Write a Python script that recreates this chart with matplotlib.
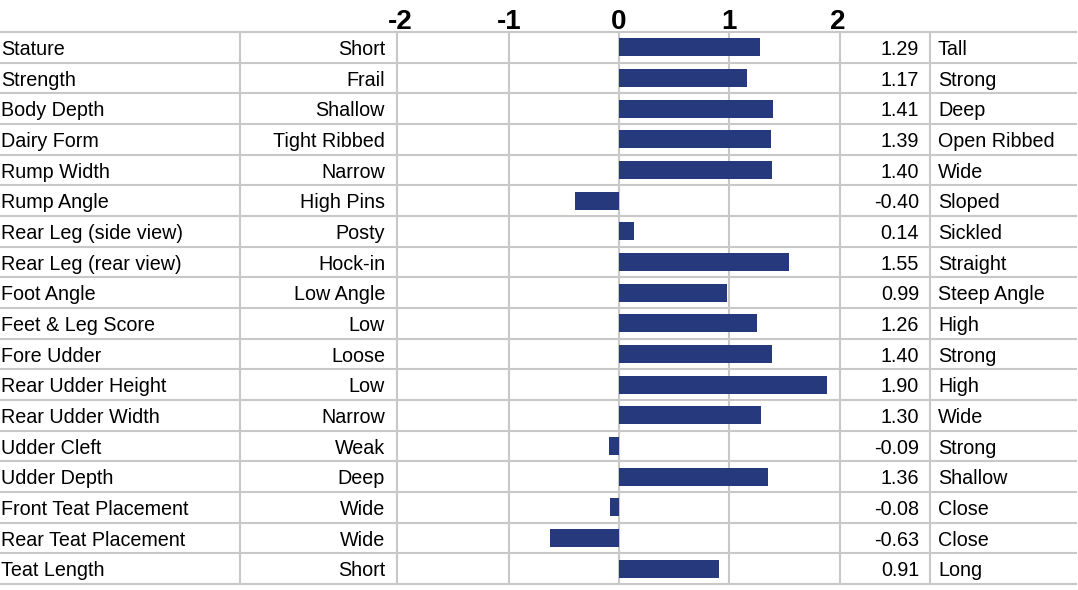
import numpy as np
import matplotlib.pyplot as plt

plt.rcParams['font.family'] = ['Liberation Sans', 'DejaVu Sans']

traits = ["Stature", "Strength", "Body Depth", "Dairy Form", "Rump Width",
          "Rump Angle", "Rear Leg (side view)", "Rear Leg (rear view)",
          "Foot Angle", "Feet & Leg Score", "Fore Udder", "Rear Udder Height",
          "Rear Udder Width", "Udder Cleft", "Udder Depth",
          "Front Teat Placement", "Rear Teat Placement", "Teat Length"]
low_labels = ["Short", "Frail", "Shallow", "Tight Ribbed", "Narrow", "High Pins",
              "Posty", "Hock-in", "Low Angle", "Low", "Loose", "Low", "Narrow",
              "Weak", "Deep", "Wide", "Wide", "Short"]
high_labels = ["Tall", "Strong", "Deep", "Open Ribbed", "Wide", "Sloped",
               "Sickled", "Straight", "Steep Angle", "High", "Strong", "High",
               "Wide", "Strong", "Shallow", "Close", "Close", "Long"]
values = [1.29, 1.17, 1.41, 1.39, 1.40, -0.40, 0.14, 1.55, 0.99, 1.26, 1.40,
          1.90, 1.30, -0.09, 1.36, -0.08, -0.63, 0.91]
ticks = [-2, -1, 0, 1, 2]

W, H = 1078, 590
top, bottom = 32, 584
n = len(traits)
rh = (bottom - top) / n
grid_c = "#c8c8c8"
bar_c = "#27397d"

fig = plt.figure(figsize=(W / 100, H / 100), dpi=100)

# background axes in pixel coords for the table part
bg = fig.add_axes([0, 0, 1, 1])
bg.set_xlim(0, W)
bg.set_ylim(H, 0)
bg.axis("off")

for k in range(n + 1):
    y = top + k * rh
    bg.plot([0, W - 1], [y, y], color=grid_c, lw=1.5, solid_capstyle="butt")
for x in [240, 397, 840, 930]:
    bg.plot([x, x], [top, bottom], color=grid_c, lw=1.5, solid_capstyle="butt")

for i in range(n):
    yc = top + (i + 0.5) * rh + 2
    bg.text(1, yc, traits[i], ha="left", va="center", fontsize=14.2)
    bg.text(385, yc, low_labels[i], ha="right", va="center", fontsize=14.2)
    bg.text(919, yc, f"{values[i]:.2f}", ha="right", va="center", fontsize=14.2)
    bg.text(938, yc, high_labels[i], ha="left", va="center", fontsize=14.2)

# bar axes
ax = fig.add_axes([397 / W, (H - bottom) / H, (840 - 397) / W, (bottom - top) / H])
ax.set_facecolor("none")
ax.set_xlim(-2.027, 2.018)
ax.set_ylim(n - 0.5, -0.5)
for t in [-1, 0, 1]:
    ax.axvline(t, color=grid_c, lw=1.5, zorder=0)
ax.barh(np.arange(n), values, height=0.58, color=bar_c, zorder=2)
ax.xaxis.tick_top()
ax.set_xticks(ticks)
ax.set_xticklabels([str(t) for t in ticks], fontsize=20, fontweight="bold")
ax.tick_params(axis="x", length=0, pad=-2)
ax.set_yticks([])
for s in ax.spines.values():
    s.set_visible(False)

fig.savefig("out.png", dpi=100)
